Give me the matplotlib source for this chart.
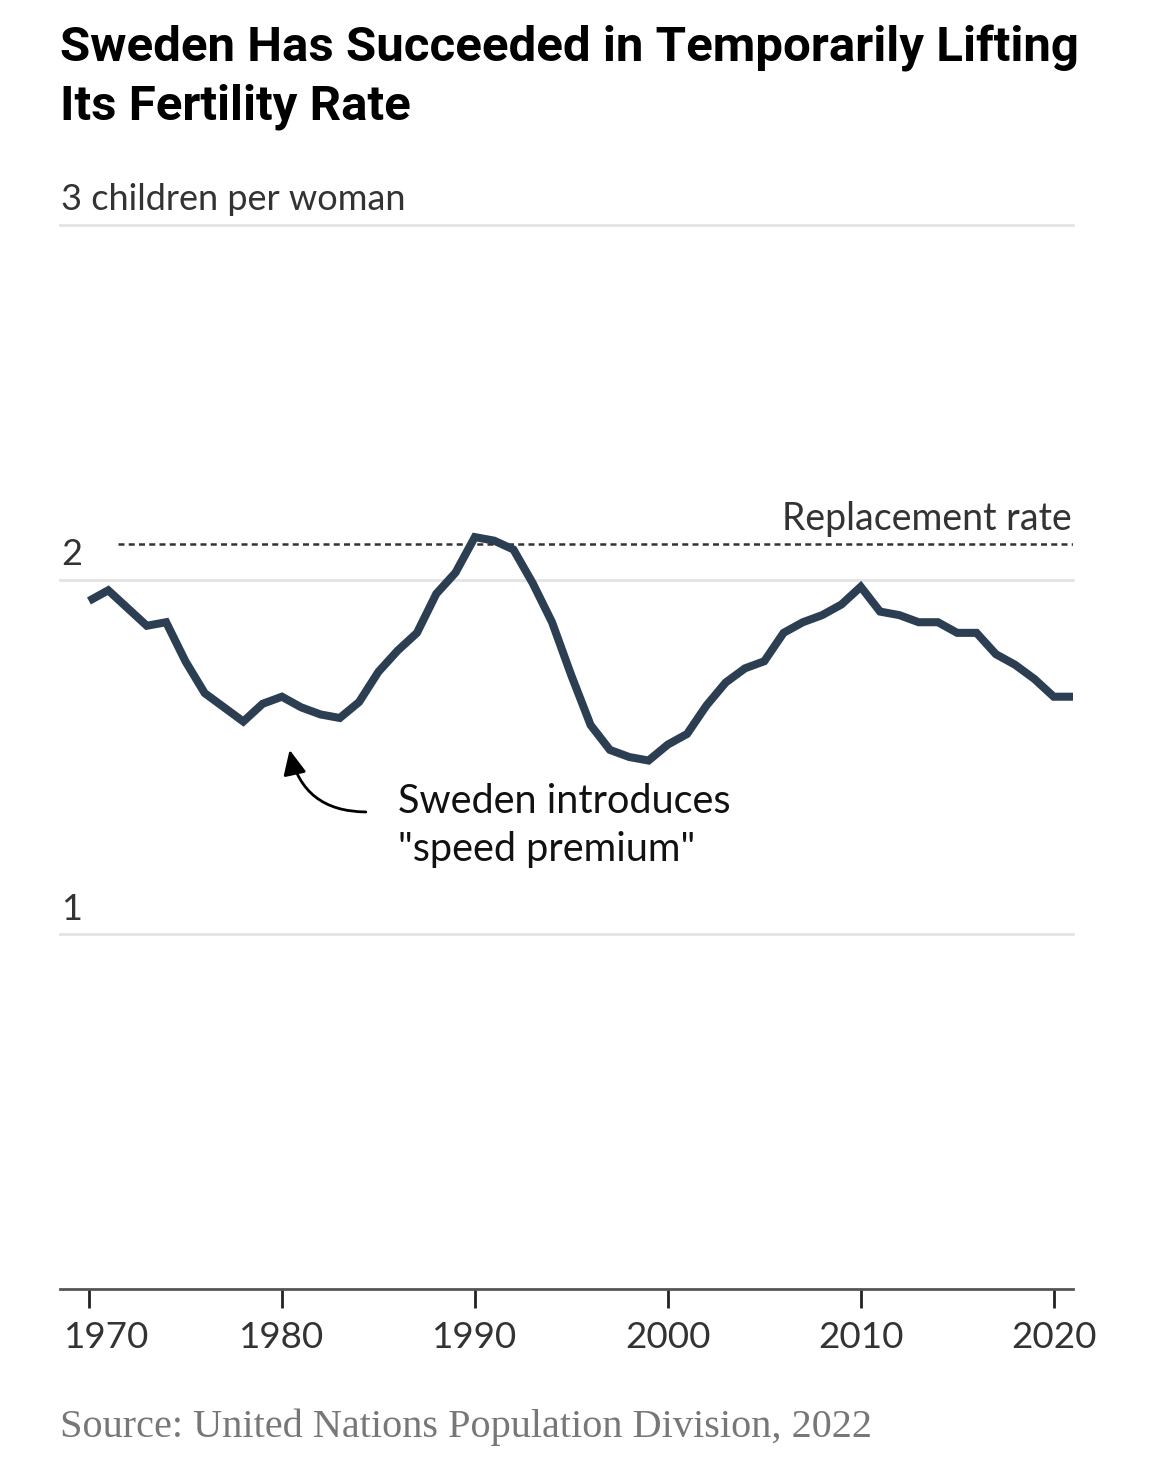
import matplotlib
matplotlib.use("Agg")
import matplotlib.pyplot as plt
from matplotlib.transforms import ScaledTranslation

# Sweden total fertility rate, children per woman
years = list(range(1970, 2022))
fertility = [
    1.94, 1.97, 1.92, 1.87, 1.88, 1.77, 1.68, 1.64, 1.60, 1.65,
    1.67, 1.64, 1.62, 1.61, 1.655, 1.74, 1.80, 1.85, 1.96, 2.02,
    2.12, 2.11, 2.085, 1.99, 1.88, 1.73, 1.59, 1.52, 1.50, 1.49,
    1.535, 1.565, 1.645, 1.71, 1.75, 1.77, 1.85, 1.88, 1.90, 1.93,
    1.98, 1.91, 1.90, 1.88, 1.88, 1.85, 1.85, 1.79, 1.76, 1.72,
    1.67, 1.67,
]
replacement_rate = 2.1
y_ticks = [1, 2, 3]
y_labels = ["1", "2", "3 children per woman"]
x_ticks = [1970, 1980, 1990, 2000, 2010, 2020]

title = "Sweden Has Succeeded in Temporarily Lifting\nIts Fertility Rate"
note = "Sweden introduces\n\"speed premium\""
source = "Source: United Nations Population Division, 2022"

# where the note sits and where its arrow points (year, rate)
note_pos = (1986.0, 1.207)
arrow_tail = (1984.35, 1.345)
arrow_tip = (1980.4, 1.52)

SANS = ["Lato", "DejaVu Sans"]
LINE_COLOR = "#2c3e52"
TEXT = "#333333"

fig = plt.figure(figsize=(11.7, 14.67), dpi=100)
ax = fig.add_axes([60 / 1170, 178 / 1467, 1013 / 1170, 1064 / 1467])

ax.plot(years, fertility, color=LINE_COLOR, lw=5.8, solid_joinstyle="miter",
        solid_capstyle="butt", zorder=3)

# gridlines and y labels
for v, lab in zip(y_ticks, y_labels):
    ax.axhline(v, color="#e4e4e4", lw=2, zorder=1, clip_on=False)
    ax.annotate(lab, xy=(0, v), xycoords=("axes fraction", "data"),
                xytext=(1, 10.5), textcoords="offset points",
                ha="left", va="baseline", fontsize=26, color=TEXT,
                family=SANS)

# replacement rate
ax.axhline(replacement_rate, xmin=0.0575, xmax=1, color="#333333", lw=1.8,
           dashes=(2.4, 1.7), zorder=2)
ax.annotate("Replacement rate", xy=(1, replacement_rate),
            xycoords=("axes fraction", "data"), xytext=(-1, 10),
            textcoords="offset points", ha="right", va="baseline",
            fontsize=27, color=TEXT, family=SANS)

# annotation with curved arrow
ax.text(note_pos[0], note_pos[1], note, ha="left", va="baseline",
        fontsize=28.5, color="#111111", family=SANS, linespacing=1.36)
ax.annotate("", xy=arrow_tip, xytext=arrow_tail,
            arrowprops=dict(arrowstyle="-|>,head_length=0.75,head_width=0.35",
                            mutation_scale=20, color="black", lw=2,
                            connectionstyle="arc3,rad=-0.4",
                            shrinkA=0, shrinkB=0))

ax.set_xlim(1968.5, 2021)
ax.set_ylim(0, 3)
ax.set_yticks([])
ax.set_xticks(x_ticks)
ax.set_xticklabels([str(x) for x in x_ticks], fontsize=26.5, color=TEXT,
                   family=SANS)
ax.tick_params(axis="x", direction="out", length=14, width=2, color="#222222",
               pad=9)
# first year label is nudged right so it doesn't hang off the left edge
first = ax.get_xticklabels()[0]
first.set_transform(first.get_transform() +
                    ScaledTranslation(0.18, 0, fig.dpi_scale_trans))
for side in ["top", "right", "left"]:
    ax.spines[side].set_visible(False)
ax.spines["bottom"].set_color("#555555")
ax.spines["bottom"].set_linewidth(2)

fig.text(60 / 1170, 1 - 119 / 1467, title, ha="left", va="baseline",
         fontsize=35.5, fontweight="bold", color="black",
         family=["Roboto", "DejaVu Sans"], linespacing=1.3)
fig.text(60 / 1170, 1 - 1437 / 1467, source, ha="left", va="baseline",
         fontsize=29, color="#777777", family=["Liberation Serif", "DejaVu Serif"])

fig.savefig("out.png", dpi=100)
